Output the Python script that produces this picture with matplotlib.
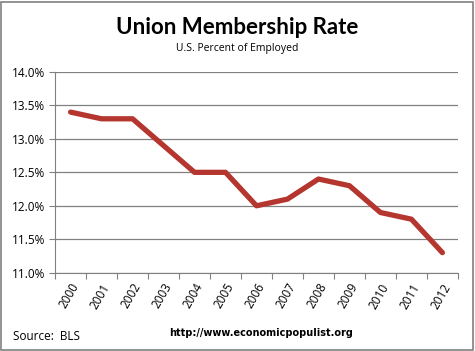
import matplotlib.pyplot as plt
from matplotlib.patches import Rectangle
from matplotlib.ticker import FuncFormatter

# union membership rate, percent of employed
years = ['2000', '2001', '2002', '2003', '2004', '2005', '2006',
         '2007', '2008', '2009', '2010', '2011', '2012']
rate = [13.4, 13.3, 13.3, 12.9, 12.5, 12.5, 12.0, 12.1, 12.4, 12.3, 11.9, 11.8, 11.3]
yticks = [11.0, 11.5, 12.0, 12.5, 13.0, 13.5, 14.0]

fig = plt.figure(figsize=(4.75, 3.51), dpi=100)
ax = fig.add_axes([0.116, 0.223, 0.848, 0.572])

x = list(range(len(years)))
ax.plot(x, rate, color='#B5362F', lw=3.8, solid_capstyle='round', solid_joinstyle='round', zorder=3)

ax.set_xlim(-0.5, len(years) - 0.5)
ax.set_ylim(11.0, 14.0)
ax.set_yticks(yticks)
ax.yaxis.set_major_formatter(FuncFormatter(lambda v, p: '%.1f%%' % v))
ax.grid(axis='y', color='#808080', lw=0.9)
ax.set_axisbelow(True)

# Excel style: ticks between the categories
ax.set_xticks([i - 0.5 for i in range(len(years) + 1)])
ax.set_xticklabels([])
ax.set_xticks(x, minor=True)
ax.set_xticklabels(years, minor=True, rotation=60, ha='right', rotation_mode='anchor',
                   fontsize=8.5, family='Open Sans')
ax.tick_params(axis='x', which='minor', length=0, pad=6)
ax.tick_params(axis='x', which='major', length=4, color='#808080', direction='out')
ax.tick_params(axis='y', length=4, color='#808080', labelsize=8.5, pad=3)
for lab in ax.get_yticklabels():
    lab.set_family('Open Sans')

for s in ['top', 'right']:
    ax.spines[s].set_visible(False)
ax.spines['left'].set_color('#808080')
ax.spines['bottom'].set_color('#808080')

fig.text(0.5, 0.922, 'Union Membership Rate', ha='center', va='center',
         fontsize=16, fontweight='bold', family='Lato')
fig.text(0.5, 0.862, 'U.S. Percent of Employed', ha='center', va='center',
         fontsize=7.5, family='Open Sans')
fig.text(0.027, 0.04, 'Source:  BLS', ha='left', va='center', fontsize=8.5, family='Open Sans')
fig.text(0.55, 0.052, 'http://www.economicpopulist.org', ha='center', va='center',
         fontsize=7, fontweight='bold', family='DejaVu Sans')

fig.patches.append(Rectangle((0.003, 0.004), 0.992, 0.99, transform=fig.transFigure,
                             fill=False, edgecolor='#808080', lw=1.2))

fig.savefig('out.png', dpi=100)
